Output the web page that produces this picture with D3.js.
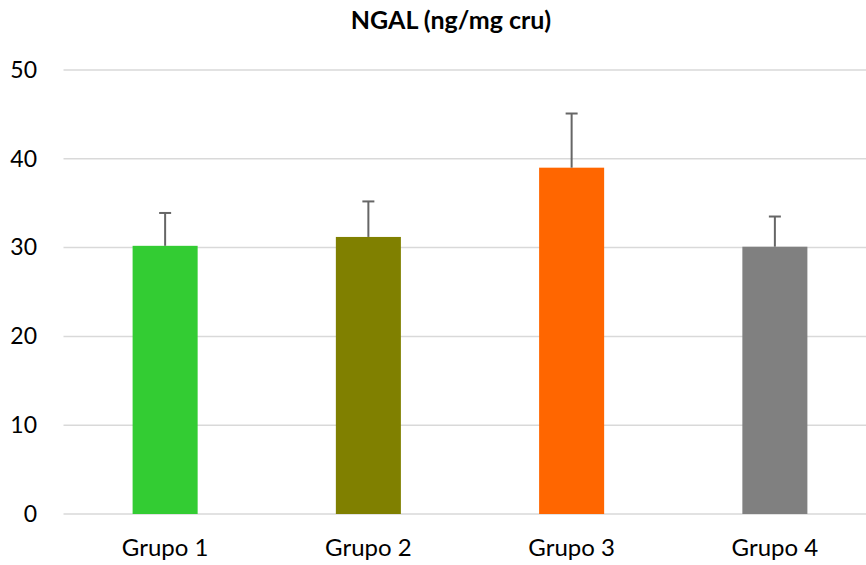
<!DOCTYPE html>
<html>
<head>
<meta charset="utf-8">
<script src="https://cdn.jsdelivr.net/npm/d3@7"></script>
<style>
  body { margin: 0; background: #fff; }
  svg { display: block; font-family: Lato, "Open Sans", sans-serif; }
</style>
</head>
<body>
<div id="container"></div>
<script>
/* DATA */
const groups = ["Grupo 1", "Grupo 2", "Grupo 3", "Grupo 4"];
const means = [30.2, 31.2, 39.0, 30.1];
const errors = [3.7, 4.0, 6.1, 3.4];
const colors = ["#33cc33", "#808000", "#ff6600", "#808080"];
const yTicks = [0, 10, 20, 30, 40, 50];
const title = "NGAL (ng/mg cru)";

/* CONSTANTS */
const width = 866,
  height = 565,
  margin = { top: 70, bottom: 51, left: 63.5, right: -10.5 };

const svg = d3.select("#container")
  .append("svg")
  .attr("width", width)
  .attr("height", height);

// SCALES
const xScale = d3.scaleBand()
  .domain(groups)
  .range([margin.left, width - margin.right])
  .padding(0);

const yScale = d3.scaleLinear()
  .domain([0, 50])
  .range([height - margin.bottom, margin.top]);

const barW = xScale.bandwidth() * 0.32;

// GRIDLINES
svg.append("g")
  .selectAll("line")
  .data(yTicks)
  .join("line")
  .attr("x1", margin.left)
  .attr("x2", width)
  .attr("y1", d => yScale(d))
  .attr("y2", d => yScale(d))
  .attr("stroke", "#d9d9d9")
  .attr("stroke-width", 1.5);

// Y AXIS LABELS
const yAxis = d3.axisLeft(yScale).tickValues(yTicks).tickSize(0).tickPadding(0);
svg.append("g")
  .attr("transform", `translate(37,0)`)
  .call(yAxis)
  .call(g => g.select(".domain").remove())
  .selectAll("text")
  .attr("font-size", 23)
  .attr("font-family", "Lato, 'Open Sans', sans-serif")
  .attr("fill", "#000");

// BARS
svg.append("g")
  .selectAll("rect")
  .data(groups)
  .join("rect")
  .attr("x", d => xScale(d) + xScale.bandwidth() / 2 - barW / 2)
  .attr("width", barW)
  .attr("y", (d, i) => yScale(means[i]))
  .attr("height", (d, i) => yScale(0) - yScale(means[i]))
  .attr("fill", (d, i) => colors[i]);

// ERROR BARS
const eb = svg.append("g")
  .attr("stroke", "#666")
  .attr("stroke-width", 2);

eb.selectAll("line.v")
  .data(groups)
  .join("line")
  .attr("class", "v")
  .attr("x1", d => xScale(d) + xScale.bandwidth() / 2)
  .attr("x2", d => xScale(d) + xScale.bandwidth() / 2)
  .attr("y1", (d, i) => yScale(means[i]))
  .attr("y2", (d, i) => yScale(means[i] + errors[i]));

eb.selectAll("line.cap")
  .data(groups)
  .join("line")
  .attr("class", "cap")
  .attr("x1", d => xScale(d) + xScale.bandwidth() / 2 - 6)
  .attr("x2", d => xScale(d) + xScale.bandwidth() / 2 + 6)
  .attr("y1", (d, i) => yScale(means[i] + errors[i]))
  .attr("y2", (d, i) => yScale(means[i] + errors[i]));

// X AXIS LABELS
const xAxis = d3.axisBottom(xScale).tickSize(0).tickPadding(0);
svg.append("g")
  .attr("transform", `translate(0,${yScale(0) + 25})`)
  .call(xAxis)
  .call(g => g.select(".domain").remove())
  .selectAll("text")
  .attr("font-size", 24)
  .attr("font-family", "Lato, 'Open Sans', sans-serif")
  .attr("fill", "#000");

// TITLE
svg.append("text")
  .attr("x", 451)
  .attr("y", 29)
  .attr("text-anchor", "middle")
  .attr("font-size", 25)
  .attr("font-weight", "bold")
  .text(title);
</script>
</body>
</html>
